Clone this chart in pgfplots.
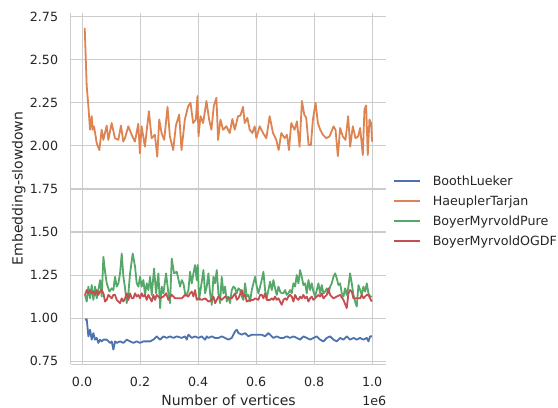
\documentclass[border=0pt]{standalone}
\usepackage{fontspec}
\setmainfont{DejaVu Sans}
\usepackage{pgfplots}
\pgfplotsset{compat=1.18}
\definecolor{sbblue}{HTML}{4C72B0}
\definecolor{sborange}{HTML}{DD8452}
\definecolor{sbgreen}{HTML}{55A868}
\definecolor{sbred}{HTML}{C44E52}
\definecolor{gridgray}{HTML}{CCCCCC}
\begin{document}
\begin{tikzpicture}
\useasboundingbox (-52.95pt,-32.78pt) rectangle (365.55pt,273.2pt);
\begin{axis}[
  at={(0pt,0pt)}, anchor=south west,
  scale only axis, width=236.9pt, height=263.7pt,
  xmin=-0.0395, xmax=1.0495, ymin=0.732, ymax=2.774,
  axis x line*=bottom, axis y line*=left,
  axis line style={draw=gridgray, line width=0.9pt, -},
  grid=major, grid style={draw=gridgray, line width=0.8pt},
  major tick length=0pt,
  xtick={0,0.2,0.4,0.6,0.8,1.0},
  ytick={0.75,1.00,1.25,1.50,1.75,2.00,2.25,2.50,2.75},
  /pgf/number format/assume math mode=true,
  tick label style={font=\fontsize{9.5}{11}\selectfont, text=black!85},
  xticklabel style={/pgf/number format/fixed, /pgf/number format/fixed zerofill, /pgf/number format/precision=1, anchor=north, inner sep=0pt, yshift=-9.75pt},
  yticklabel style={/pgf/number format/fixed, /pgf/number format/fixed zerofill, /pgf/number format/precision=2, anchor=east, inner sep=0pt, xshift=-9.2pt},
  xlabel={Number of vertices},
  xlabel style={at={(axis description cs:0.5,-0.1176)}, anchor=base, inner sep=0pt, font=\fontsize{10.5}{12}\selectfont, text=black!85},
  ylabel={Embedding-slowdown},
  ylabel style={at={(axis description cs:-0.152,0.5)}, rotate=0, anchor=base, inner sep=0pt, font=\fontsize{10.5}{12}\selectfont, text=black!85},
  legend cell align=left,
  legend image code/.code={\draw[#1, line width=1.35pt] (0pt,0pt) -- (19.5pt,0pt);},
  legend style={at={(axis description cs:1.0207,0.4364)}, anchor=west, draw=none, fill=none, inner sep=0pt, outer sep=0pt, row sep=8.2pt, font=\fontsize{9.5}{11}\selectfont, text=black!85, nodes={inner sep=0pt, text height=6.9pt, text depth=0pt}, /tikz/every odd column/.append style={column sep=9pt}},
  every axis plot/.append style={line width=1.35pt, line join=round},
]
\addplot[sbblue] coordinates {(0.0103,0.990)(0.0161,0.994)(0.0218,0.894)(0.0276,0.933)(0.0333,0.875)(0.0391,0.913)(0.0448,0.875)(0.0506,0.885)(0.0563,0.856)(0.0621,0.875)(0.0678,0.865)(0.0736,0.875)(0.0851,0.875)(0.0966,0.856)(0.1023,0.865)(0.108,0.817)(0.1138,0.865)(0.1195,0.856)(0.131,0.865)(0.1425,0.856)(0.154,0.875)(0.1655,0.865)(0.177,0.856)(0.1885,0.865)(0.2,0.856)(0.2115,0.865)(0.223,0.865)(0.2345,0.865)(0.246,0.875)(0.2575,0.894)(0.269,0.875)(0.2805,0.894)(0.292,0.885)(0.3034,0.894)(0.3149,0.885)(0.3264,0.894)(0.3437,0.885)(0.3552,0.894)(0.3609,0.875)(0.3667,0.904)(0.3782,0.885)(0.3897,0.894)(0.4011,0.885)(0.4126,0.894)(0.4241,0.875)(0.4299,0.894)(0.4356,0.885)(0.4471,0.894)(0.4586,0.885)(0.4701,0.885)(0.4816,0.894)(0.4931,0.885)(0.5046,0.875)(0.5161,0.885)(0.5218,0.904)(0.5276,0.923)(0.5333,0.933)(0.5391,0.913)(0.5506,0.904)(0.5621,0.913)(0.5736,0.894)(0.5851,0.904)(0.5966,0.904)(0.608,0.904)(0.6195,0.904)(0.631,0.894)(0.6425,0.913)(0.6598,0.885)(0.6713,0.894)(0.6828,0.885)(0.6943,0.885)(0.7057,0.894)(0.7172,0.885)(0.7287,0.894)(0.7402,0.885)(0.7517,0.875)(0.7632,0.894)(0.7747,0.885)(0.7862,0.875)(0.7977,0.885)(0.8092,0.894)(0.8207,0.875)(0.8322,0.865)(0.8437,0.885)(0.8552,0.894)(0.8667,0.875)(0.8782,0.865)(0.8897,0.885)(0.9011,0.875)(0.9126,0.894)(0.9241,0.875)(0.9356,0.885)(0.9471,0.875)(0.9586,0.885)(0.9701,0.875)(0.9816,0.885)(0.9874,0.865)(0.9931,0.894)(0.9989,0.894)};
\addlegendentry{BoothLueker}
\addplot[sborange] coordinates {(0.0092,2.686)(0.016,2.349)(0.0218,2.231)(0.0275,2.094)(0.0333,2.173)(0.0367,2.094)(0.0413,2.114)(0.0505,2.016)(0.0596,1.976)(0.0677,2.094)(0.0734,2.035)(0.0849,2.118)(0.0906,2.035)(0.1021,2.133)(0.1135,2.045)(0.125,2.035)(0.1342,2.118)(0.1422,2.025)(0.1479,2.045)(0.1594,2.114)(0.1709,2.065)(0.1823,2.025)(0.1938,2.129)(0.1995,1.957)(0.2053,2.114)(0.2167,1.996)(0.2305,2.202)(0.2397,2.045)(0.2511,2.065)(0.2592,1.937)(0.2661,2.153)(0.2741,2.075)(0.2833,2.035)(0.2947,2.227)(0.3028,2.055)(0.3142,1.976)(0.3234,2.118)(0.3349,2.182)(0.3429,1.976)(0.3544,2.153)(0.3658,2.231)(0.3739,2.251)(0.383,2.133)(0.3922,2.153)(0.3979,2.29)(0.4014,2.055)(0.4083,2.173)(0.4174,2.133)(0.4289,2.261)(0.4381,2.153)(0.4461,2.094)(0.4541,2.231)(0.4633,2.28)(0.469,2.035)(0.4771,2.153)(0.4862,2.094)(0.4977,2.114)(0.5092,2.075)(0.5183,2.157)(0.5264,2.094)(0.5378,2.173)(0.5459,2.176)(0.555,2.227)(0.5608,2.133)(0.57,2.163)(0.578,2.094)(0.5872,2.075)(0.5952,2.114)(0.6009,2.045)(0.6124,2.114)(0.6239,2.075)(0.6353,2.045)(0.6468,2.173)(0.6583,2.075)(0.6697,2.035)(0.6778,1.976)(0.6869,2.075)(0.6984,2.045)(0.7064,2.065)(0.7133,1.976)(0.7213,2.133)(0.7328,2.094)(0.7408,2.143)(0.75,1.996)(0.758,2.261)(0.7661,2.182)(0.7729,2.163)(0.781,2.006)(0.789,2.006)(0.7959,2.153)(0.805,2.251)(0.8131,2.133)(0.8211,2.094)(0.8303,2.065)(0.8417,2.045)(0.8532,2.055)(0.867,2.114)(0.8739,2.094)(0.8819,1.941)(0.8899,2.104)(0.8991,2.055)(0.9083,2.035)(0.9174,2.173)(0.9243,1.996)(0.9335,2.114)(0.9427,2.045)(0.9518,2.055)(0.9587,2.104)(0.9679,1.947)(0.9736,2.212)(0.9794,2.235)(0.9851,1.947)(0.9908,2.153)(0.9966,2.133)(1.0,2.025)};
\addlegendentry{HaeuplerTarjan}
\addplot[sbgreen] coordinates {(0.0103,1.135)(0.0161,1.096)(0.0218,1.183)(0.0276,1.115)(0.0333,1.192)(0.0391,1.106)(0.0448,1.183)(0.0506,1.115)(0.0563,1.163)(0.0621,1.221)(0.0678,1.125)(0.0736,1.356)(0.0793,1.269)(0.0851,1.202)(0.0943,1.154)(0.1023,1.173)(0.108,1.163)(0.1138,1.24)(0.1195,1.183)(0.1253,1.202)(0.131,1.26)(0.1368,1.375)(0.1425,1.24)(0.1483,1.173)(0.154,1.087)(0.1598,1.144)(0.1655,1.26)(0.1747,1.375)(0.1828,1.298)(0.1885,1.202)(0.1943,1.183)(0.2,1.24)(0.2057,1.183)(0.2115,1.221)(0.2172,1.135)(0.223,1.202)(0.2287,1.163)(0.2345,1.24)(0.2402,1.135)(0.2483,1.288)(0.2552,1.144)(0.2632,1.26)(0.269,1.058)(0.2747,1.183)(0.2805,1.144)(0.2897,1.26)(0.2977,1.144)(0.3034,1.087)(0.3092,1.346)(0.3172,1.26)(0.3264,1.269)(0.3379,1.183)(0.3437,1.221)(0.3494,1.202)(0.3552,1.144)(0.3609,1.135)(0.3667,1.163)(0.3724,1.269)(0.3782,1.202)(0.3839,1.26)(0.3897,1.308)(0.3954,1.221)(0.3989,1.308)(0.4034,1.106)(0.4103,1.183)(0.4184,1.279)(0.4241,1.144)(0.4299,1.183)(0.4356,1.26)(0.4414,1.144)(0.4471,1.077)(0.4529,1.24)(0.4586,1.202)(0.4644,1.279)(0.4701,1.144)(0.4759,1.087)(0.4816,1.24)(0.4874,1.144)(0.4931,1.183)(0.4989,1.096)(0.5046,1.125)(0.5103,1.087)(0.5161,1.163)(0.5218,1.183)(0.5276,1.173)(0.5333,1.144)(0.5391,1.173)(0.5448,1.163)(0.5506,1.125)(0.5563,1.106)(0.5621,1.202)(0.5678,1.125)(0.5736,1.135)(0.5793,1.096)(0.5851,1.163)(0.5908,1.202)(0.5966,1.24)(0.6023,1.183)(0.608,1.144)(0.6138,1.183)(0.6195,1.221)(0.6253,1.269)(0.631,1.163)(0.6368,1.115)(0.6425,1.163)(0.6483,1.212)(0.654,1.163)(0.6598,1.221)(0.6655,1.173)(0.6713,1.135)(0.677,1.183)(0.6828,1.154)(0.6885,1.144)(0.6943,1.144)(0.7,1.163)(0.7057,1.135)(0.7115,1.144)(0.7172,1.163)(0.723,1.144)(0.7287,1.202)(0.7345,1.183)(0.7402,1.25)(0.746,1.202)(0.7517,1.279)(0.7575,1.24)(0.7632,1.192)(0.769,1.202)(0.7747,1.144)(0.7805,1.221)(0.7862,1.163)(0.792,1.202)(0.7977,1.154)(0.8034,1.125)(0.8092,1.163)(0.8149,1.202)(0.8207,1.144)(0.8264,1.192)(0.8322,1.144)(0.8379,1.154)(0.8437,1.173)(0.8494,1.144)(0.8552,1.183)(0.8609,1.202)(0.8667,1.24)(0.8724,1.26)(0.8782,1.231)(0.8839,1.192)(0.8897,1.202)(0.8954,1.144)(0.9011,1.125)(0.9069,1.173)(0.9126,1.135)(0.9184,1.183)(0.9241,1.26)(0.9299,1.202)(0.9356,1.135)(0.9414,1.096)(0.9471,1.067)(0.9529,1.192)(0.9586,1.163)(0.9644,1.135)(0.9701,1.183)(0.9759,1.154)(0.9816,1.202)(0.9874,1.144)(0.9931,1.125)(0.9989,1.125)};
\addlegendentry{BoyerMyrvoldPure}
\addplot[sbred] coordinates {(0.0103,1.135)(0.0161,1.163)(0.0218,1.144)(0.0276,1.163)(0.0333,1.144)(0.0391,1.154)(0.0448,1.135)(0.0506,1.163)(0.0563,1.135)(0.0621,1.154)(0.0678,1.163)(0.0736,1.144)(0.0793,1.096)(0.0851,1.106)(0.0908,1.135)(0.0966,1.125)(0.1023,1.115)(0.108,1.135)(0.1138,1.135)(0.1195,1.106)(0.1253,1.096)(0.131,1.087)(0.1368,1.115)(0.1425,1.096)(0.1483,1.115)(0.154,1.144)(0.1598,1.106)(0.1655,1.144)(0.1713,1.115)(0.177,1.115)(0.1828,1.144)(0.1885,1.125)(0.1943,1.135)(0.2,1.115)(0.2057,1.144)(0.2115,1.125)(0.2172,1.135)(0.223,1.106)(0.2287,1.135)(0.2345,1.115)(0.2402,1.096)(0.246,1.135)(0.2517,1.106)(0.2575,1.135)(0.269,1.115)(0.2805,1.125)(0.2897,1.144)(0.2977,1.106)(0.3092,1.135)(0.3207,1.115)(0.3322,1.115)(0.3437,1.115)(0.3552,1.135)(0.3667,1.125)(0.3724,1.144)(0.3782,1.154)(0.3839,1.125)(0.3897,1.163)(0.3954,1.106)(0.4011,1.115)(0.4126,1.106)(0.4241,1.115)(0.4356,1.096)(0.4471,1.106)(0.4529,1.125)(0.4586,1.087)(0.4701,1.125)(0.4816,1.106)(0.4931,1.125)(0.5046,1.115)(0.5161,1.115)(0.5276,1.144)(0.5333,1.106)(0.5391,1.115)(0.5506,1.163)(0.5563,1.125)(0.5621,1.135)(0.5678,1.096)(0.5793,1.106)(0.5908,1.106)(0.5966,1.115)(0.608,1.106)(0.6138,1.135)(0.6195,1.135)(0.6253,1.115)(0.631,1.144)(0.6368,1.106)(0.6483,1.106)(0.654,1.115)(0.6598,1.106)(0.6655,1.125)(0.6713,1.106)(0.677,1.115)(0.6828,1.096)(0.6885,1.077)(0.6943,1.106)(0.7,1.115)(0.7057,1.106)(0.7115,1.125)(0.7172,1.135)(0.723,1.125)(0.7287,1.096)(0.7345,1.135)(0.7402,1.115)(0.746,1.106)(0.7517,1.125)(0.7575,1.115)(0.7632,1.135)(0.769,1.115)(0.7747,1.125)(0.7805,1.096)(0.7862,1.115)(0.792,1.125)(0.7977,1.106)(0.8034,1.115)(0.8092,1.125)(0.8149,1.135)(0.8207,1.125)(0.8264,1.144)(0.8322,1.115)(0.8379,1.125)(0.8437,1.135)(0.8494,1.173)(0.8552,1.135)(0.8609,1.125)(0.8667,1.115)(0.8782,1.125)(0.8897,1.135)(0.9011,1.106)(0.9126,1.058)(0.9184,1.144)(0.9241,1.163)(0.9299,1.154)(0.9356,1.115)(0.9471,1.115)(0.9586,1.115)(0.9644,1.135)(0.9701,1.115)(0.9816,1.135)(0.9874,1.135)(0.9931,1.115)(0.9989,1.096)};
\addlegendentry{BoyerMyrvoldOGDF}
\end{axis}
\node[anchor=base east, inner sep=0pt, font=\fontsize{9.5}{11}\selectfont, text=black!85] at (236.9pt,-31pt) {1e6};
\end{tikzpicture}
\end{document}
